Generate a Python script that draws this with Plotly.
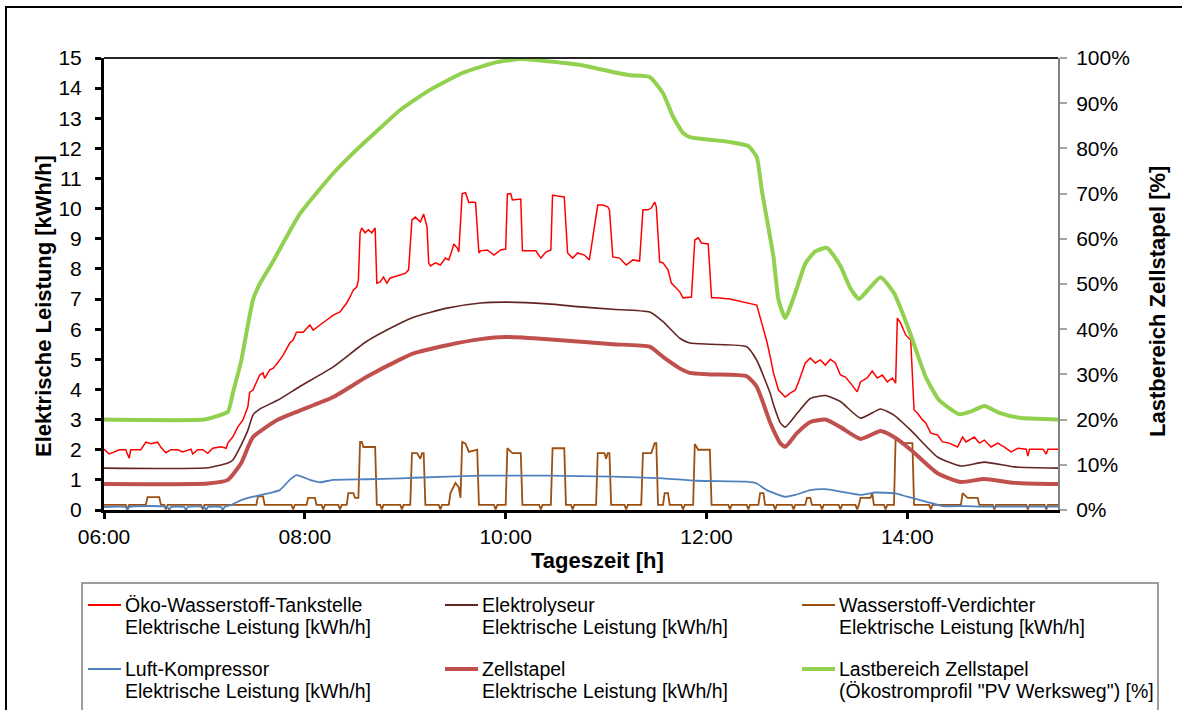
import plotly.graph_objects as go

DAY = "2000-01-01 "

# ---------------------------------------------------------------- data
# Öko-Wasserstoff-Tankstelle, elektrische Leistung [kWh/h]
tank_t = ["06:00", "06:03", "06:06", "06:09", "06:13", "06:15", "06:16", "06:22", "06:25", "06:28",
          "06:32", "06:34", "06:37", "06:40", "06:44", "06:47", "06:52", "06:53", "06:56", "06:59",
          "07:02", "07:05", "07:10", "07:13", "07:14", "07:17", "07:20", "07:23", "07:26", "07:27",
          "07:29", "07:32", "07:33", "07:35", "07:36", "07:39", "07:41", "07:44", "07:47", "07:51",
          "07:53", "07:55", "07:59", "08:03", "08:05", "08:09", "08:13", "08:17", "08:21", "08:25",
          "08:27", "08:29", "08:31", "08:32", "08:33", "08:34", "08:36", "08:38", "08:40", "08:42",
          "08:43", "08:45", "08:47", "08:49", "08:51", "08:53", "08:57", "09:00", "09:02", "09:04",
          "09:06", "09:09", "09:11", "09:13", "09:14", "09:15", "09:18", "09:21", "09:24", "09:26",
          "09:28", "09:29", "09:31", "09:32", "09:34", "09:36", "09:38", "09:40", "09:42", "09:44",
          "09:45", "09:49", "09:53", "09:57", "10:00", "10:01", "10:03", "10:04", "10:09", "10:10",
          "10:13", "10:18", "10:21", "10:24", "10:27", "10:28", "10:31", "10:34", "10:35", "10:37",
          "10:40", "10:43", "10:47", "10:50", "10:55", "10:58", "11:01", "11:02", "11:04", "11:08",
          "11:12", "11:16", "11:20", "11:22", "11:25", "11:27", "11:29", "11:30", "11:32", "11:34",
          "11:37", "11:39", "11:41", "11:44", "11:46", "11:49", "11:51", "11:53", "11:55", "11:57",
          "12:01", "12:03", "12:06", "12:14", "12:24", "12:30", "12:33", "12:36", "12:38", "12:40",
          "12:43", "12:47", "12:50", "12:53", "12:55", "12:57", "12:59", "13:02", "13:05", "13:08",
          "13:11", "13:14", "13:17", "13:20", "13:23", "13:26", "13:30", "13:32", "13:36", "13:39",
          "13:42", "13:45", "13:48", "13:51", "13:53", "13:54", "13:56", "13:59", "14:02", "14:04",
          "14:06", "14:09", "14:11", "14:14", "14:18", "14:21", "14:25", "14:30", "14:33", "14:35",
          "14:40", "14:43", "14:46", "14:50", "14:54", "14:58", "15:02", "15:06", "15:11", "15:12",
          "15:13", "15:21", "15:23", "15:24", "15:30"]
tank_kw = [2.02, 1.86, 1.92, 2.00, 2.00, 1.72, 2.00, 2.00, 2.25, 2.20,
           2.25, 2.08, 1.90, 2.00, 2.00, 1.93, 2.02, 1.86, 2.00, 2.00,
           1.88, 2.05, 2.10, 2.05, 2.22, 2.43, 2.76, 2.99, 3.43, 3.90,
           3.98, 4.32, 4.48, 4.55, 4.37, 4.65, 4.70, 4.90, 5.14, 5.54,
           5.64, 5.90, 5.90, 6.14, 5.97, 6.14, 6.30, 6.47, 6.57, 6.87,
           7.07, 7.30, 7.40, 7.63, 9.20, 9.36, 9.20, 9.30, 9.20, 9.36,
           7.53, 7.57, 7.73, 7.53, 7.70, 7.73, 7.80, 7.85, 7.97, 9.63,
           9.72, 9.56, 9.82, 9.40, 8.20, 8.10, 8.20, 8.13, 8.36, 8.30,
           8.63, 8.83, 8.70, 8.56, 10.50, 10.53, 10.20, 10.22, 10.20, 8.53,
           8.60, 8.63, 8.46, 8.63, 8.66, 10.49, 10.50, 10.29, 10.32, 8.60,
           8.60, 8.60, 8.36, 8.56, 8.63, 10.45, 10.42, 10.39, 10.39, 8.53,
           8.36, 8.53, 8.46, 8.30, 10.12, 10.12, 10.06, 9.96, 8.40, 8.36,
           8.13, 8.30, 8.26, 9.96, 9.96, 10.02, 10.22, 10.06, 8.23, 8.20,
           7.97, 7.53, 7.40, 7.24, 7.04, 7.07, 7.07, 8.96, 9.03, 8.86,
           8.83, 7.04, 7.04, 7.00, 6.87, 6.80, 6.20, 5.60, 5.10, 4.55,
           3.98, 3.75, 3.88, 3.98, 4.25, 4.55, 4.88, 5.04, 4.88, 4.98,
           4.81, 5.00, 4.88, 4.48, 4.41, 4.21, 3.92, 4.25, 4.38, 4.61,
           4.38, 4.48, 4.25, 4.38, 4.21, 6.37, 6.20, 5.81, 5.64, 3.32,
           3.22, 2.99, 2.89, 2.55, 2.49, 2.26, 2.22, 2.09, 2.42, 2.26,
           2.42, 2.22, 2.32, 2.09, 2.22, 2.09, 1.93, 2.05, 2.02, 1.79,
           2.02, 2.02, 1.86, 2.02, 2.02]

# Elektrolyseur, elektrische Leistung [kWh/h]
elyse_t = ["06:00", "07:02", "07:14", "07:17", "07:22", "07:26", "07:29", "07:33", "07:44", "07:57",
           "08:17", "08:37", "08:57", "09:05", "09:25", "09:45", "10:00", "10:25", "10:45", "11:04",
           "11:26", "11:34", "11:44", "11:50", "12:03", "12:24", "12:30", "12:38", "12:40", "12:44",
           "12:47", "12:54", "13:02", "13:11", "13:20", "13:32", "13:44", "13:52", "14:02", "14:18",
           "14:32", "14:46", "15:04", "15:30"]
elyse_kw = [1.39, 1.40, 1.56, 1.66, 2.16, 2.65, 3.15, 3.35, 3.65, 4.10,
            4.75, 5.60, 6.20, 6.40, 6.70, 6.87, 6.90, 6.84, 6.74, 6.66,
            6.57, 6.25, 5.70, 5.54, 5.50, 5.42, 4.97, 3.88, 3.50, 2.90,
            2.75, 3.20, 3.70, 3.80, 3.60, 3.05, 3.35, 3.15, 2.65, 1.76,
            1.46, 1.59, 1.43, 1.39]

# Wasserstoff-Verdichter, elektrische Leistung [kWh/h]
verd_t = ["06:00", "06:13", "06:14", "06:15", "06:25", "06:26", "06:33", "06:34", "06:36", "06:37",
          "06:38", "06:58", "06:59", "07:00", "07:31", "07:32", "07:35", "07:36", "07:52", "07:53",
          "07:54", "08:01", "08:02", "08:06", "08:07", "08:10", "08:11", "08:12", "08:20", "08:21",
          "08:22", "08:25", "08:26", "08:29", "08:30", "08:32", "08:33", "08:34", "08:35", "08:42",
          "08:43", "08:45", "08:46", "08:47", "08:57", "08:58", "08:59", "09:03", "09:04", "09:07",
          "09:09", "09:10", "09:11", "09:12", "09:20", "09:21", "09:22", "09:26", "09:27", "09:30",
          "09:32", "09:33", "09:34", "09:36", "09:38", "09:43", "09:44", "09:53", "09:54", "09:55",
          "10:00", "10:01", "10:04", "10:09", "10:10", "10:20", "10:21", "10:22", "10:27", "10:28",
          "10:35", "10:36", "10:39", "10:40", "10:41", "10:54", "10:55", "10:59", "11:00", "11:01",
          "11:02", "11:03", "11:11", "11:12", "11:13", "11:21", "11:22", "11:27", "11:29", "11:30",
          "11:31", "11:34", "11:35", "11:37", "11:38", "11:45", "11:46", "11:47", "11:52", "11:53",
          "11:55", "12:02", "12:03", "12:13", "12:14", "12:15", "12:24", "12:25", "12:26", "12:31",
          "12:32", "12:34", "12:35", "12:40", "12:41", "12:42", "12:51", "12:52", "12:53", "12:59",
          "13:00", "13:02", "13:03", "13:08", "13:09", "13:10", "13:19", "13:20", "13:21", "13:29",
          "13:30", "13:31", "13:32", "13:38", "13:39", "13:40", "13:46", "13:47", "13:48", "13:52",
          "13:53", "13:57", "14:03", "14:04", "14:13", "14:14", "14:15", "14:32", "14:33", "14:36",
          "14:42", "14:43", "14:51", "14:52", "14:53", "15:11", "15:12", "15:13", "15:22", "15:23",
          "15:24", "15:30"]
verd_kw = [0.17, 0.17, 0.02, 0.17, 0.17, 0.43, 0.43, 0.17, 0.17, 0.02,
           0.17, 0.17, 0.02, 0.17, 0.17, 0.45, 0.45, 0.17, 0.17, 0.02,
           0.17, 0.17, 0.40, 0.40, 0.17, 0.17, 0.02, 0.17, 0.17, 0.02,
           0.17, 0.17, 0.56, 0.56, 0.40, 0.40, 2.26, 2.26, 2.09, 2.09,
           0.17, 0.17, 0.02, 0.17, 0.17, 0.02, 0.17, 0.17, 1.89, 1.89,
           1.70, 1.89, 1.89, 0.17, 0.17, 0.02, 0.17, 0.17, 0.56, 0.90,
           0.75, 0.40, 2.26, 2.20, 1.93, 2.00, 0.17, 0.17, 0.02, 0.17,
           0.17, 2.05, 1.89, 1.89, 0.17, 0.17, 0.02, 0.17, 0.17, 2.05,
           2.05, 0.17, 0.17, 0.02, 0.17, 0.17, 1.89, 1.89, 1.70, 1.89,
           1.89, 0.17, 0.17, 0.02, 0.17, 0.17, 1.89, 1.89, 2.22, 2.22,
           0.17, 0.17, 0.56, 0.56, 0.17, 0.17, 0.02, 0.17, 0.17, 2.19,
           2.00, 2.00, 0.17, 0.17, 0.02, 0.17, 0.17, 0.02, 0.17, 0.17,
           0.56, 0.56, 0.17, 0.17, 0.02, 0.17, 0.17, 0.02, 0.17, 0.17,
           0.40, 0.40, 0.17, 0.17, 0.02, 0.17, 0.17, 0.02, 0.17, 0.17,
           0.02, 0.17, 0.40, 0.40, 0.56, 0.17, 0.17, 0.02, 0.17, 0.17,
           2.42, 2.22, 2.22, 0.17, 0.17, 0.02, 0.17, 0.17, 0.56, 0.40,
           0.40, 0.17, 0.17, 0.02, 0.17, 0.17, 0.02, 0.17, 0.17, 0.02,
           0.17, 0.17]

# Luft-Kompressor, elektrische Leistung [kWh/h]
luft_t = ["06:00", "06:13", "06:14", "06:15", "06:38", "06:39", "06:40", "06:48", "06:49", "06:50",
          "07:00", "07:01", "07:02", "07:10", "07:11", "07:12", "07:16", "07:22", "07:29", "07:38",
          "07:45", "07:51", "07:55", "08:03", "08:09", "08:17", "08:37", "08:57", "09:05", "09:45",
          "10:25", "11:04", "11:34", "11:54", "12:24", "12:30", "12:36", "12:47", "12:53", "13:02",
          "13:11", "13:20", "13:32", "13:41", "13:53", "14:00", "14:11", "14:21", "14:35", "14:46",
          "15:30"]
luft_kw = [0.10, 0.10, 0.00, 0.10, 0.10, 0.00, 0.10, 0.10, 0.00, 0.10,
           0.10, 0.00, 0.10, 0.10, 0.00, 0.10, 0.17, 0.33, 0.44, 0.55,
           0.66, 1.00, 1.16, 1.00, 0.92, 1.00, 1.02, 1.05, 1.07, 1.14,
           1.14, 1.11, 1.05, 0.97, 0.94, 0.88, 0.66, 0.44, 0.50, 0.66,
           0.69, 0.61, 0.50, 0.58, 0.55, 0.44, 0.28, 0.13, 0.13, 0.11,
           0.11]

# Zellstapel, elektrische Leistung [kWh/h]
zell_t = ["06:00", "07:02", "07:14", "07:22", "07:29", "07:44", "07:57", "08:17", "08:37", "08:57",
          "09:05", "09:25", "09:45", "10:00", "10:25", "10:45", "11:04", "11:26", "11:34", "11:44",
          "11:50", "12:03", "12:24", "12:30", "12:38", "12:40", "12:44", "12:47", "12:54", "13:02",
          "13:11", "13:20", "13:32", "13:44", "13:52", "14:02", "14:18", "14:32", "14:46", "15:04",
          "15:30"]
zell_kw = [0.86, 0.88, 1.00, 1.56, 2.42, 3.00, 3.30, 3.75, 4.42, 5.00,
           5.20, 5.47, 5.67, 5.74, 5.67, 5.58, 5.50, 5.42, 5.08, 4.70,
           4.55, 4.50, 4.44, 4.09, 2.90, 2.65, 2.22, 2.10, 2.55, 2.92,
           3.00, 2.75, 2.36, 2.62, 2.42, 2.00, 1.22, 0.93, 1.03, 0.90,
           0.86]

# Lastbereich Zellstapel (Ökostromprofil "PV Werksweg") [%]
last_t = ["06:00", "07:00", "07:07", "07:14", "07:17", "07:22", "07:26", "07:29", "07:33", "07:41",
          "07:57", "08:17", "08:29", "08:45", "08:57", "09:15", "09:35", "09:55", "10:09", "10:25",
          "10:44", "11:04", "11:14", "11:26", "11:34", "11:40", "11:46", "11:50", "12:14", "12:25",
          "12:30", "12:33", "12:40", "12:43", "12:47", "12:53", "12:59", "13:05", "13:12", "13:20",
          "13:26", "13:31", "13:36", "13:44", "13:52", "14:01", "14:11", "14:19", "14:31", "14:38",
          "14:46", "14:55", "15:07", "15:30"]
last_pct = [20.0, 20.0, 20.7, 21.7, 25.9, 33.0, 41.0, 46.5, 50.0, 55.0,
            65.5, 74.5, 79.0, 84.5, 88.5, 93.0, 96.8, 99.1, 99.8, 99.3,
            98.5, 96.9, 96.2, 95.8, 92.2, 87.0, 83.4, 82.5, 81.4, 80.5,
            78.1, 70.8, 56.0, 46.5, 42.5, 48.0, 54.5, 57.2, 58.0, 54.0,
            49.0, 46.7, 48.5, 51.5, 48.0, 39.8, 29.4, 24.3, 21.2, 21.8,
            23.0, 21.5, 20.4, 20.0]

y_ticks = list(range(0, 16))
pct_ticks = list(range(0, 101, 10))
pct_labels = [f"{p}%" for p in pct_ticks]

# ---------------------------------------------------------------- styling
C_TANK = "#FF0000"
C_ELYSE = "#632523"
C_VERD = "#9B5011"
C_LUFT = "#4F81BD"
C_ZELL = "#C0504D"
C_LAST = "#92D050"
FONT = "Liberation Sans, Arial, sans-serif"

W, H = 1182, 710
L, R, T, B = 104, 1058, 58, 510          # plot-area edges in pixels


def px(x):
    return (x - L) / (R - L)


def py(y):
    return (B - y) / (B - T)


def stamp(times):
    return [DAY + t for t in times]


fig = go.Figure()

series = [
    (tank_t, tank_kw, C_TANK, 1.5, "linear", "y",
     "Öko-Wasserstoff-Tankstelle Elektrische Leistung [kWh/h]"),
    (elyse_t, elyse_kw, C_ELYSE, 1.6, "spline", "y",
     "Elektrolyseur Elektrische Leistung [kWh/h]"),
    (verd_t, verd_kw, C_VERD, 1.8, "linear", "y",
     "Wasserstoff-Verdichter Elektrische Leistung [kWh/h]"),
    (luft_t, luft_kw, C_LUFT, 1.8, "spline", "y",
     "Luft-Kompressor Elektrische Leistung [kWh/h]"),
    (zell_t, zell_kw, C_ZELL, 4, "spline", "y",
     "Zellstapel Elektrische Leistung [kWh/h]"),
    (last_t, last_pct, C_LAST, 4, "spline", "y2",
     "Lastbereich Zellstapel (Ökostromprofil \"PV Werksweg\") [%]"),
]
for t, v, col, w, shape, ax, name in series:
    line = dict(color=col, width=w, shape=shape)
    if shape == "spline":
        line["smoothing"] = 0.5
    fig.add_trace(go.Scatter(x=stamp(t), y=v, mode="lines", line=line,
                             name=name, yaxis=ax, showlegend=False,
                             hoverinfo="skip"))

tickfont = dict(family=FONT, size=21, color="black")
fig.update_layout(
    width=W, height=H,
    margin=dict(l=L, r=W - R, t=T, b=H - B),
    paper_bgcolor="white", plot_bgcolor="white",
    font=dict(family=FONT, color="black"),
    showlegend=False,
    xaxis=dict(type="date", range=[DAY + "06:00", DAY + "15:30"],
               tick0=DAY + "06:00", dtick=2 * 3600 * 1000, tickformat="%H:%M",
               ticks="outside", ticklen=6, tickwidth=2.5, tickcolor="black",
               showline=True, linecolor="black", linewidth=3,
               showgrid=False, zeroline=False, tickfont=tickfont),
    yaxis=dict(range=[0, 15], tickvals=y_ticks, ticks="outside", ticklen=6,
               tickwidth=2.5, tickcolor="black", showline=True,
               linecolor="black", linewidth=3, showgrid=False,
               zeroline=False, tickfont=tickfont, ticklabelstandoff=9),
    yaxis2=dict(range=[0, 100], tickvals=pct_ticks, ticktext=pct_labels,
                overlaying="y", side="right", ticks="outside", ticklen=7,
                tickwidth=1.5, tickcolor="#A6A6A6", showline=True,
                linecolor="#808080", linewidth=2, showgrid=False,
                zeroline=False, tickfont=tickfont, ticklabelstandoff=5),
)

shapes = [
    # top edge of the plot frame
    dict(type="line", xref="paper", yref="paper", x0=0, x1=1, y0=1, y1=1,
         line=dict(color="#262626", width=2)),
    # outer chart border
    dict(type="rect", xref="paper", yref="paper", x0=px(6), x1=px(1200),
         y0=py(7), y1=py(730), line=dict(color="black", width=2),
         fillcolor="rgba(0,0,0,0)", layer="below"),
    # legend frame
    dict(type="rect", xref="paper", yref="paper", x0=px(82), x1=px(1158),
         y0=py(583), y1=py(725), line=dict(color="#7F7F7F", width=1.5),
         fillcolor="rgba(0,0,0,0)", layer="below"),
]

annotations = [
    dict(text="<b>Elektrische Leistung [kWh/h]</b>", x=px(43), y=py(306),
         textangle=-90, font=dict(family=FONT, size=22, color="black")),
    dict(text="<b>Lastbereich Zellstapel [%]</b>", x=px(1157), y=py(302),
         textangle=-90, font=dict(family=FONT, size=22, color="black")),
    dict(text="<b>Tageszeit [h]</b>", x=px(597), y=py(560),
         font=dict(family=FONT, size=22, color="black")),
]

legend_items = [
    ("Öko-Wasserstoff-Tankstelle", "Elektrische Leistung [kWh/h]", C_TANK, 2),
    ("Elektrolyseur", "Elektrische Leistung [kWh/h]", C_ELYSE, 2),
    ("Wasserstoff-Verdichter", "Elektrische Leistung [kWh/h]", C_VERD, 2),
    ("Luft-Kompressor", "Elektrische Leistung [kWh/h]", C_LUFT, 2),
    ("Zellstapel", "Elektrische Leistung [kWh/h]", C_ZELL, 4),
    ("Lastbereich Zellstapel", "(Ökostromprofil \"PV Werksweg\") [%]", C_LAST, 4),
]
col_x = [123, 480, 837]
row_y = [(605, 627), (669, 691)]
for i, (l1, l2, col, w) in enumerate(legend_items):
    tx = col_x[i % 3]
    y1, y2 = row_y[i // 3]
    shapes.append(dict(type="line", xref="paper", yref="paper",
                       x0=px(tx - 35), x1=px(tx - 2), y0=py(y1), y1=py(y1),
                       line=dict(color=col, width=w)))
    for txt, yy in ((l1, y1), (l2, y2)):
        annotations.append(dict(text=txt, x=px(tx), y=py(yy), xanchor="left",
                                font=dict(family=FONT, size=19.5, color="black")))

for a in annotations:
    a.update(xref="paper", yref="paper", showarrow=False)
    a.setdefault("xanchor", "center")
    a.setdefault("yanchor", "middle")

fig.update_layout(shapes=shapes, annotations=annotations)
fig.write_html("out.html")
